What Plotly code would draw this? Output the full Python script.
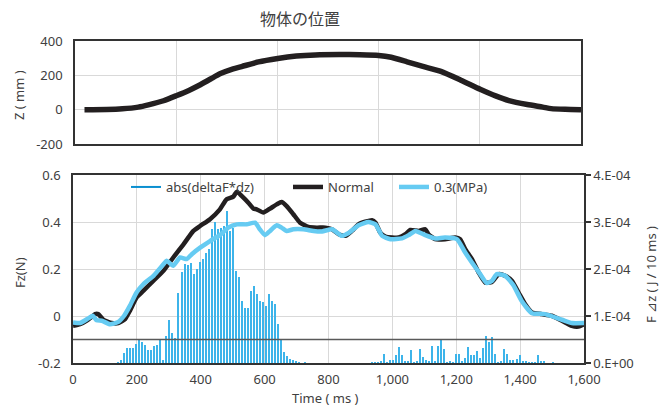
import numpy as np
import plotly.graph_objects as go

# ---------------- data ----------------
title_text = "物体の位置"

# top panel: object position Z (mm) vs time (ms)
pos_t = [30, 100, 150, 200, 232, 280, 320, 360, 393, 430, 460, 500, 527, 580, 641, 700, 760,
         836, 900, 960, 1000, 1050, 1100, 1157, 1220, 1281, 1330, 1372, 1430, 1479, 1506, 1550, 1600]
pos_z = [0, 1, 5, 15, 28, 52, 81, 112, 142, 180, 210, 238, 251, 278, 298, 312, 319,
         321, 320, 316, 305, 279, 252, 223, 172, 119, 80, 53, 30, 15, 6, 2, 0]

# bottom panel: Fz (N), "Normal"
normal_t = [0, 22, 43, 60, 69, 79, 88, 95, 121, 142, 163, 178, 199, 220, 252, 283, 314, 346, 377,
            398, 429, 460, 481, 502, 513, 528, 549, 565, 575, 596, 617, 638, 653, 669, 690, 711,
            737, 763, 790, 811, 832, 853, 873, 894, 915, 936, 947, 962, 978, 999, 1020, 1041,
            1056, 1082, 1103, 1113, 1134, 1165, 1197, 1212, 1228, 1249, 1270, 1291, 1312, 1333,
            1353, 1374, 1395, 1416, 1437, 1468, 1499, 1531, 1562, 1583, 1600]
normal_fz = [-0.042, -0.035, -0.02, -0.002, 0.008, 0.008, -0.005, -0.016, -0.03, -0.03, -0.013,
             0.022, 0.079, 0.107, 0.15, 0.192, 0.249, 0.305, 0.362, 0.383, 0.412, 0.454, 0.497,
             0.508, 0.529, 0.511, 0.482, 0.457, 0.454, 0.44, 0.457, 0.475, 0.485, 0.468, 0.433,
             0.397, 0.379, 0.376, 0.376, 0.369, 0.348, 0.341, 0.362, 0.39, 0.401, 0.408, 0.397,
             0.355, 0.338, 0.334, 0.334, 0.348, 0.366, 0.362, 0.369, 0.348, 0.327, 0.327, 0.334,
             0.327, 0.285, 0.242, 0.185, 0.142, 0.145, 0.178, 0.171, 0.15, 0.1, 0.05, 0.015,
             0.008, 0.001, -0.02, -0.042, -0.045, -0.035]

# bottom panel: Fz (N), "0.3(MPa)"
mpa_t = [0, 22, 48, 62, 74, 90, 116, 142, 160, 178, 199, 220, 252, 283, 293, 314, 335, 356, 372,
         398, 429, 460, 486, 513, 544, 570, 585, 601, 617, 638, 653, 669, 690, 721, 753, 780, 811,
         842, 863, 894, 925, 947, 968, 994, 1030, 1051, 1072, 1103, 1134, 1165, 1202, 1228, 1249,
         1275, 1296, 1312, 1327, 1353, 1379, 1405, 1437, 1478, 1531, 1562, 1600]
mpa_fz = [-0.027, -0.03, -0.01, 0.001, -0.018, -0.02, -0.035, -0.025, 0.001, 0.043, 0.1, 0.135,
          0.171, 0.22, 0.235, 0.214, 0.249, 0.242, 0.263, 0.291, 0.319, 0.344, 0.376, 0.39, 0.39,
          0.397, 0.369, 0.344, 0.362, 0.386, 0.376, 0.362, 0.369, 0.369, 0.362, 0.36, 0.369,
          0.341, 0.353, 0.386, 0.4, 0.39, 0.341, 0.327, 0.33, 0.344, 0.362, 0.344, 0.33, 0.334,
          0.327, 0.27, 0.228, 0.178, 0.14, 0.15, 0.178, 0.171, 0.131, 0.064, 0.012, 0.008,
          -0.016, -0.03, -0.03]

# bars: abs(deltaF*dz) in units of 1E-04 J / 10 ms, sampled from t = 142 ms every ~9.45 ms
bar_start_t = 142
bar_step_t = 9.45
bar_e4 = [0.02, 0.074, 0.217, 0.309, 0.309, 0.309, 0.394, 0.486, 0.45, 0.38,
          0.273, 0.273, 0.358, 0.38, 0.486, 0.074, 0.57, 0.925, 0.628, 0.53,
          1.5, 1.93, 2.10, 2.08, 2.12, 1.89, 2.00, 2.14, 2.22, 2.35,
          2.42, 2.85, 2.99, 2.85, 2.88, 2.92, 3.24, 2.81, 2.88, 1.96,
          1.84, 1.32, 1.18, 1.18, 1.54, 1.64, 1.47, 1.32, 1.29, 1.22,
          1.47, 1.32, 1.25, 0.83, 0.51, 0.24, 0.14, 0.085, 0.07, 0.03,
          0.01, 0.0, 0.014, 0.0, 0.0, 0.0, 0.0, 0.0, 0.0, 0.0,
          0.0, 0.0, 0.0, 0.0, 0.0, 0.0, 0.0, 0.0, 0.0, 0.0,
          0.0, 0.0, 0.0, 0.0, 0.005, 0.01, 0.018, 0.039, 0.202, 0.018,
          0.06, 0.06, 0.167, 0.33, 0.18, 0.053, 0.053, 0.287, 0.018, 0.039,
          0.30, 0.124, 0.074, 0.039, 0.372, 0.039, 0.372, 0.479, 0.30, 0.018,
          0.046, 0.01, 0.195, 0.195, 0.046, 0.11, 0.351, 0.16, 0.16, 0.266,
          0.11, 0.323, 0.585, 0.443, 0.557, 0.202, 0.018, 0.039, 0.30, 0.202,
          0.074, 0.074, 0.089, 0.16, 0.046, 0.032, 0.004, 0.011, 0.011, 0.16,
          0.053, 0.032, 0.0, 0.0, 0.004]
bar_t = [bar_start_t + bar_step_t * i for i in range(len(bar_e4))]
bar_val = [v * 1e-4 for v in bar_e4]

threshold_fz = -0.1

x_ticks = [0, 200, 400, 600, 800, 1000, 1200, 1400, 1600]
top_x_grid = [0, 320, 640, 960, 1280, 1600]
top_y_ticks = [-200, 0, 200, 400]
top_y_text = ["-200", "0", "200", "400"]
fz_ticks = [-0.2, 0, 0.2, 0.4, 0.6]
fz_text = ["-0.2", "0", "0.2", "0.4", "0.6"]
e_ticks = [0, 1e-4, 2e-4, 3e-4, 4e-4]
e_text = ["0.E+00", "1.E-04", "2.E-04", "3.E-04", "4.E-04"]

# ---------------- style ----------------
FONT = "Noto Sans"
TXT = "#404040"
GRID = "#d9d9d9"
FRAME = "#333333"
BLACK = "#231f20"
LIGHT = "#66cbf2"
BARC = "#3db4ea"
LEGBLUE = "#0a8fd0"

W, H = 664, 407
L, R, T, B = 73, 80, 41, 44
PW, PH = W - L - R, H - T - B

def px_x(x):
    return (x - L) / PW

def px_y(y):
    return (H - B - y) / PH

fig = go.Figure()

fig.add_trace(go.Scatter(x=pos_t, y=pos_z, xaxis="x", yaxis="y", mode="lines",
                         line=dict(color=BLACK, width=5.5, shape="spline", smoothing=0.6),
                         showlegend=False, hoverinfo="skip"))

# bars on the base (right, energy) axis so that the Fz lines overlay them
fig.add_trace(go.Bar(x=bar_t, y=bar_val, xaxis="x2", yaxis="y2", width=4.6,
                     marker=dict(color=BARC, line=dict(width=0)), showlegend=False))

fig.add_trace(go.Scatter(x=[None], y=[None], xaxis="x2", yaxis="y3", mode="lines",
                         name="abs(deltaF*dz)", line=dict(color=LEGBLUE, width=2),
                         legend="legend"))
fig.add_trace(go.Scatter(x=normal_t, y=normal_fz, xaxis="x2", yaxis="y3", mode="lines",
                         name="Normal", line=dict(color=BLACK, width=4.5, shape="spline", smoothing=0.5),
                         legend="legend2"))
fig.add_trace(go.Scatter(x=mpa_t, y=mpa_fz, xaxis="x2", yaxis="y3", mode="lines",
                         name="0.3(MPa)", line=dict(color=LIGHT, width=4.5, shape="spline", smoothing=0.5),
                         legend="legend3"))

axis_common = dict(showline=True, linecolor=FRAME, linewidth=1.5, mirror=True,
                   gridcolor=GRID, gridwidth=1, zeroline=False,
                   tickfont=dict(family=FONT, size=13, color=TXT))

top_dom_x = [px_x(75), px_x(581)]
top_dom_y = [px_y(144), 1.0]
bot_dom_y = [0.0, px_y(175)]

fig.update_layout(
    width=W, height=H, margin=dict(l=L, r=R, t=T, b=B),
    paper_bgcolor="white", plot_bgcolor="white",
    font=dict(family=FONT, size=13, color=TXT),
    title=dict(text=title_text, x=300 / W, xanchor="center", y=1 - 19 / H, yanchor="middle",
               font=dict(family="Noto Sans CJK JP", size=16, color=TXT)),
    bargap=0,
    xaxis=dict(axis_common, domain=top_dom_x, anchor="y", range=[0, 1600],
               tickvals=top_x_grid, showticklabels=False, ticks=""),
    yaxis=dict(axis_common, domain=top_dom_y, anchor="x", range=[-200, 400],
               tickvals=top_y_ticks, ticktext=top_y_text, ticks="", ticklabelstandoff=8),
    xaxis2=dict(axis_common, domain=[0, 1], anchor="y2", range=[0, 1600],
                tickvals=x_ticks, tickformat=",d", ticks="", ticklabelstandoff=4),
    yaxis2=dict(axis_common, domain=bot_dom_y, anchor="x2", side="right", range=[0, 4e-4],
                tickvals=e_ticks, ticktext=e_text, showgrid=True, ticks="outside",
                ticklen=5, tickcolor=FRAME, tickwidth=1.5),
    yaxis3=dict(axis_common, overlaying="y2", side="left", anchor="x2", range=[-0.2, 0.6],
                tickvals=fz_ticks, ticktext=fz_text, showgrid=False, ticks="",
                ticklabelstandoff=8, mirror=False),
    legend=dict(orientation="h", x=px_x(126), y=px_y(187), xanchor="left", yanchor="middle",
                bgcolor="rgba(0,0,0,0)", font=dict(family=FONT, size=13, color=TXT)),
    legend2=dict(orientation="h", x=px_x(288), y=px_y(187), xanchor="left", yanchor="middle",
                 bgcolor="rgba(0,0,0,0)", font=dict(family=FONT, size=13, color=TXT)),
    legend3=dict(orientation="h", x=px_x(394), y=px_y(187), xanchor="left", yanchor="middle",
                 bgcolor="rgba(0,0,0,0)", font=dict(family=FONT, size=13, color=TXT)),
    shapes=[dict(type="line", xref="x2 domain", x0=0, x1=1, yref="y3",
                 y0=threshold_fz, y1=threshold_fz, line=dict(color="#595959", width=1.5))],
    annotations=[
        dict(text="Z ( mm )", x=px_x(19), y=px_y(95), xref="paper", yref="paper",
             xanchor="center", yanchor="middle", textangle=-90, showarrow=False,
             font=dict(family=FONT, size=13, color=TXT)),
        dict(text="Fz(N)", x=px_x(20), y=px_y(273), xref="paper", yref="paper",
             xanchor="center", yanchor="middle", textangle=-90, showarrow=False,
             font=dict(family=FONT, size=13, color=TXT)),
        dict(text="F ⊿z ( J / 10 ms )", x=px_x(651), y=px_y(275), xref="paper", yref="paper",
             xanchor="center", yanchor="middle", textangle=-90, showarrow=False,
             font=dict(family=FONT, size=13, color=TXT)),
        dict(text="Time ( ms )", x=px_x(325), y=px_y(398), xref="paper", yref="paper",
             xanchor="center", yanchor="middle", showarrow=False,
             font=dict(family=FONT, size=13, color=TXT)),
    ],
)

fig.write_html("out.html", config={"displayModeBar": False},
               post_script="document.body.style.margin='0px';")
